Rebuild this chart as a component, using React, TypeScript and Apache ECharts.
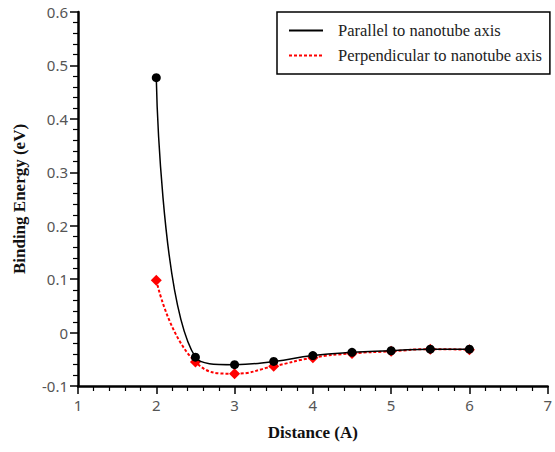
import React, { useEffect, useRef } from "react";
import * as echarts from "echarts";

const distances = [2, 2.5, 3, 3.5, 4, 4.5, 5, 5.5, 6];
const parallel = [0.477, -0.046, -0.06, -0.054, -0.043, -0.037, -0.034, -0.031, -0.031];
const perpendicular = [0.098, -0.055, -0.077, -0.063, -0.047, -0.039, -0.035, -0.031, -0.032];
const seriesNames = ["Parallel to nanotube axis", "Perpendicular to nanotube axis"];

export default function App() {
  const ref = useRef<HTMLDivElement>(null);
  useEffect(() => {
    if (!ref.current) return;
    const chart = echarts.init(ref.current, null, { renderer: "svg" });
    const pair = (ys: number[]) => distances.map((x, i) => [x, ys[i]]);
    const tickFont = { color: "#555", fontFamily: "Noto Sans", fontSize: 15 };
    const nameFont = { fontFamily: "Liberation Serif", fontWeight: "bold", fontSize: 17, color: "#111" };
    chart.setOption({
      animation: false,
      backgroundColor: "#fff",
      grid: { left: 78, right: 7, top: 12, bottom: 66, containLabel: false },
      legend: {
        orient: "vertical",
        left: 277,
        top: 12,
        padding: [10, 8, 10, 11],
        itemWidth: 34,
        itemHeight: 14,
        itemGap: 8,
        borderColor: "#000",
        borderWidth: 1.5,
        borderRadius: 0,
        itemStyle: { opacity: 0 },
        textStyle: {
          fontFamily: "Liberation Serif",
          fontSize: 16.5,
          color: "#222",
          padding: [0, 0, 0, 10],
        },
        data: seriesNames,
      },
      xAxis: {
        type: "value",
        min: 1,
        max: 7,
        interval: 1,
        name: "Distance (A)",
        nameLocation: "middle",
        nameGap: 38,
        nameTextStyle: nameFont,
        axisLine: { show: true, onZero: false, lineStyle: { color: "#000", width: 2.5 } },
        axisTick: { show: true, length: 8, lineStyle: { color: "#000", width: 1.5 } },
        minorTick: { show: true, splitNumber: 5, length: 5, lineStyle: { color: "#000", width: 1.2 } },
        splitLine: { show: false },
        axisLabel: { ...tickFont, margin: 11 },
      },
      yAxis: {
        type: "value",
        min: -0.1,
        max: 0.6,
        interval: 0.1,
        name: "Binding Energy (eV)",
        nameLocation: "middle",
        nameGap: 50,
        nameTextStyle: nameFont,
        axisLine: { show: true, onZero: false, lineStyle: { color: "#000", width: 2.5 } },
        axisTick: { show: true, length: 8, lineStyle: { color: "#000", width: 1.5 } },
        minorTick: { show: true, splitNumber: 5, length: 5, lineStyle: { color: "#000", width: 1.2 } },
        splitLine: { show: false },
        axisLabel: {
          ...tickFont,
          margin: 10,
          formatter: (v: number) => {
            const r = Math.round(v * 10) / 10;
            return r === 0 ? "0" : r.toFixed(1);
          },
        },
      },
      series: [
        {
          name: seriesNames[0],
          type: "line",
          smooth: 0.5,
          data: pair(parallel),
          symbol: "circle",
          symbolSize: 9,
          itemStyle: { color: "#000" },
          lineStyle: { color: "#000", width: 1.5 },
          z: 3,
        },
        {
          name: seriesNames[1],
          type: "line",
          smooth: 0.5,
          data: pair(perpendicular),
          symbol: "diamond",
          symbolSize: 11,
          itemStyle: { color: "#ff0000" },
          lineStyle: { color: "#ff0000", width: 2, type: [3, 2] },
          z: 2,
        },
      ],
    });
    return () => chart.dispose();
  }, []);
  return <div ref={ref} style={{ width: 555, height: 452, position: "absolute", left: 0, top: 0 }} />;
}
